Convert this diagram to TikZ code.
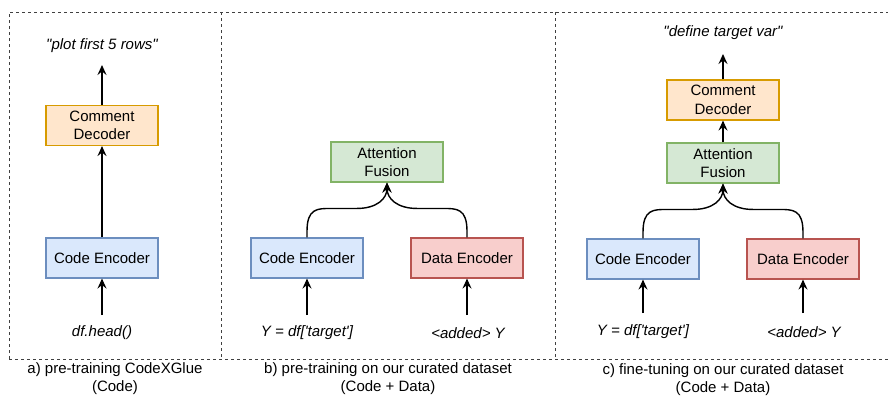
\documentclass[tikz,border=0pt]{standalone}
\usepackage{fontspec}
\setmainfont{Liberation Sans}
\usetikzlibrary{arrows.meta,calc}

\definecolor{encfill}{HTML}{DAE8FC}
\definecolor{encline}{HTML}{6C8EBF}
\definecolor{decfill}{HTML}{FFE6CC}
\definecolor{decline}{HTML}{D79B00}
\definecolor{fusfill}{HTML}{D5E8D4}
\definecolor{fusline}{HTML}{82B366}
\definecolor{datfill}{HTML}{F8CECC}
\definecolor{datline}{HTML}{B85450}

\tikzset{
  block/.style={draw, line width=1.1pt, minimum width=112pt, minimum height=40pt,
                align=center, inner sep=0pt},
  codeenc/.style={block, fill=encfill, draw=encline},
  dataenc/.style={block, fill=datfill, draw=datline},
  decoder/.style={block, fill=decfill, draw=decline},
  fusion/.style={block, fill=fusfill, draw=fusline},
  arr/.style={line width=1.4pt, -{Stealth[length=10pt,width=9pt,inset=3.5pt]}},
  frame/.style={draw=black!75, line width=1pt, dash pattern=on 3pt off 3pt},
  snippet/.style={font=\fontsize{15}{18}\selectfont\itshape},
  caption/.style={align=center, font=\fontsize{15}{18}\selectfont}
}

\newcommand{\sq}{\textquotesingle}
\newcommand{\dq}{\textquotedbl}
% curved merge from an encoder on the left / right into the fusion block
\newcommand{\mergeleft}[2]{\draw[arr] (#1) -- ++(0,-6)
  .. controls +(0,-23) and +(-14,0) .. ++(24,-23) -- ++(26,0)
  .. controls +(20,0) and +(0,16) .. (#2);}
\newcommand{\mergeright}[2]{\draw[arr] (#1) -- ++(0,-6)
  .. controls +(0,-23) and +(14,0) .. ++(-24,-23) -- ++(-26,0)
  .. controls +(-20,0) and +(0,16) .. (#2);}

\begin{document}
\begin{tikzpicture}[x=1pt, y=-1pt, font=\fontsize{15}{18.5}\selectfont]
\useasboundingbox (0,0) rectangle (888,397);

% dashed panel frames
\draw[frame] (9,359) -- (9,12) -- (888,12);
\draw[frame] (9,359) -- (888,359);
\draw[frame] (221,12) -- (221,359);
\draw[frame] (555.5,12) -- (555.5,359);

% ---- panel a: pre-training on CodeXGlue ----
\node[decoder] (cda) at (102,125.5) {Comment\\Decoder};
\node[codeenc] (cea) at (102,258) {Code Encoder};
\node[snippet] (ta) at (102,333) {df.head()};
\node[snippet] (oa) at (102,46) {\dq plot first 5 rows\dq};
\coordinate (ina) at (102,315);
\coordinate (outa) at (102,65);
\draw[arr] (ina) -- (cea.south);
\draw[arr] (cea.north) -- (cda.south);
\draw[arr] (cda.north) -- (outa);
\node[caption] (capa) at (115,379) {a) pre-training CodeXGlue\\(Code)};

% ---- panel b: pre-training on curated dataset ----
\node[fusion] (afb) at (387,162) {Attention\\Fusion};
\node[codeenc] (ceb) at (307,258) {Code Encoder};
\node[dataenc] (deb) at (467,258) {Data Encoder};
\node[snippet] (tcb) at (307,333) {Y = df[\sq target\sq]};
\node[snippet] (tdb) at (468,333) {<added> Y};
\coordinate (incb) at (307,315);
\coordinate (indb) at (467,315);
\draw[arr] (incb) -- (ceb.south);
\draw[arr] (indb) -- (deb.south);
\mergeleft{ceb.north}{afb.south}
\mergeright{deb.north}{afb.south}
\node[caption] (capb) at (388,379) {b) pre-training on our curated dataset\\(Code + Data)};

% ---- panel c: fine-tuning on curated dataset ----
\node[decoder] (cdc) at (723,100) {Comment\\Decoder};
\node[fusion] (afc) at (723,163) {Attention\\Fusion};
\node[codeenc] (cec) at (643,259) {Code Encoder};
\node[dataenc] (dec) at (803,259) {Data Encoder};
\node[snippet] (tcc) at (643,332) {Y = df[\sq target\sq]};
\node[snippet] (tdc) at (804,332) {<added> Y};
\node[snippet] (oc) at (723,33) {\dq define target var\dq};
\coordinate (incc) at (643,313);
\coordinate (indc) at (803,313);
\coordinate (outc) at (723,54);
\draw[arr] (incc) -- (cec.south);
\draw[arr] (indc) -- (dec.south);
\mergeleft{cec.north}{afc.south}
\mergeright{dec.north}{afc.south}
\draw[arr] (afc.north) -- (cdc.south);
\draw[arr] (cdc.north) -- (outc);
\node[caption] (capc) at (723,379.5) {c) fine-tuning on our curated dataset\\(Code + Data)};
\end{tikzpicture}
\end{document}
